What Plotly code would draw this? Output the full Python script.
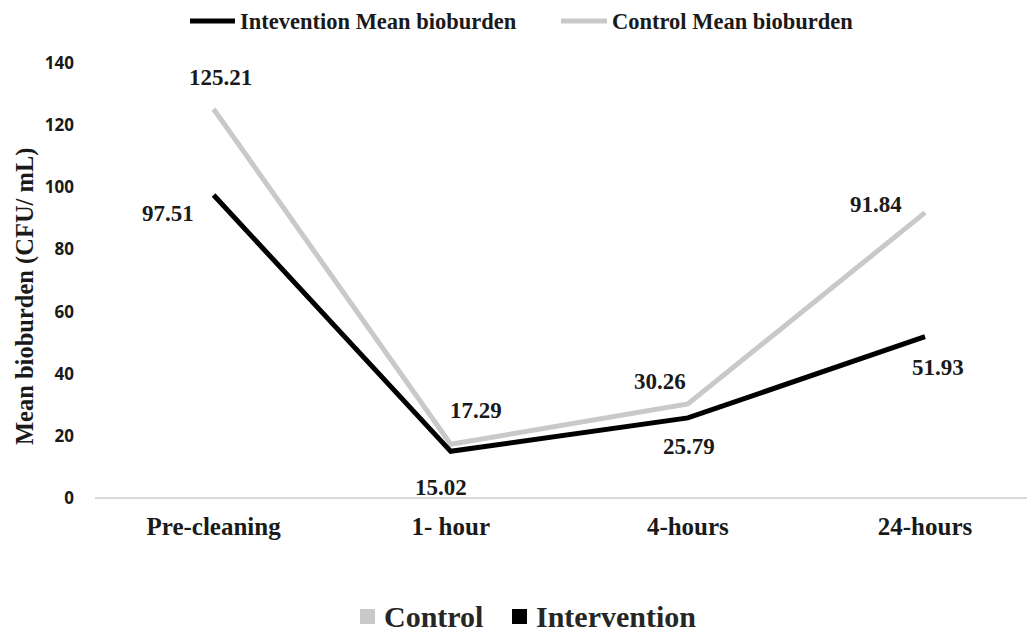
import plotly.graph_objects as go

# Sampling times and mean bioburden (CFU/mL) per group
timepoints = ["Pre-cleaning", "1- hour", "4-hours", "24-hours"]
intervention_mean = [97.51, 15.02, 25.79, 51.93]
control_mean = [125.21, 17.29, 30.26, 91.84]
y_ticks = [0, 20, 40, 60, 80, 100, 120, 140]

SERIF = "Liberation Serif, Times New Roman, serif"
SANS = "Open Sans, Arial, sans-serif"
GRAY = "#c9c9c9"
BLACK = "#000000"
TEXT = "#1a1a1a"

W, H = 1027, 632
L, T, B, R = 95, 63, 134, 0
PW, PH = W - L - R, H - T - B


def px_x(px):
    return (px - L) / PW


def px_y(py):
    return (H - B - py) / PH


fig = go.Figure()

fig.add_trace(go.Scatter(
    x=timepoints, y=control_mean, mode="lines", name="Control Mean bioburden",
    line=dict(color=GRAY, width=5), cliponaxis=False, showlegend=False,
))
fig.add_trace(go.Scatter(
    x=timepoints, y=intervention_mean, mode="lines", name="Intevention Mean bioburden",
    line=dict(color=BLACK, width=5), cliponaxis=False, showlegend=False,
))

# Value labels next to each point (pixel offsets from the point)
control_offsets = [(7, 31), (25, 34), (-28, 22), (-49, 8)]
intervention_offsets = [(-46, -18), (-10, -36), (1, -29), (13, -31)]
for values, offsets in ((control_mean, control_offsets), (intervention_mean, intervention_offsets)):
    for cat, v, (dx, dy) in zip(timepoints, values, offsets):
        fig.add_annotation(
            x=cat, y=v, text=f"{v:.2f}", showarrow=False,
            xshift=dx, yshift=dy, xanchor="center", yanchor="middle",
            font=dict(family=SERIF, size=23, color=TEXT, weight="bold"),
        )

# Line legend across the top
top_items = [("Intevention Mean bioburden", BLACK, 190, 235),
             ("Control Mean bioburden", GRAY, 561, 607)]
for label, color, x0, x1 in top_items:
    fig.add_shape(type="line", xref="paper", yref="paper",
                  x0=px_x(x0), x1=px_x(x1), y0=px_y(21), y1=px_y(21),
                  line=dict(color=color, width=5))
    fig.add_annotation(xref="paper", yref="paper", x=px_x(x1 + 3), y=px_y(21),
                       text=label, showarrow=False, xanchor="left", yanchor="middle",
                       font=dict(family=SERIF, size=22.5, color=TEXT, weight="bold"))

# Square-marker legend along the bottom
bottom_items = [("Control", GRAY, 360), ("Intervention", BLACK, 512)]
for label, color, x0 in bottom_items:
    fig.add_shape(type="rect", xref="paper", yref="paper",
                  x0=px_x(x0), x1=px_x(x0 + 15), y0=px_y(624), y1=px_y(609),
                  line=dict(width=0), fillcolor=color)
    fig.add_annotation(xref="paper", yref="paper", x=px_x(x0 + 22), y=px_y(616),
                       text=label, showarrow=False, xanchor="left", yanchor="middle",
                       font=dict(family=SERIF, size=30, color="#262626", weight="bold"))

# Y-axis title
fig.add_annotation(xref="paper", yref="paper", x=px_x(25), y=px_y(297),
                   text="Mean bioburden (CFU/ mL)", showarrow=False, textangle=-90,
                   xanchor="center", yanchor="middle",
                   font=dict(family=SERIF, size=24.5, color=TEXT, weight="bold"))

fig.update_layout(
    width=W, height=H,
    margin=dict(l=L, r=R, t=T, b=B, pad=0),
    paper_bgcolor="white", plot_bgcolor="white",
    showlegend=False,
    xaxis=dict(
        type="category", range=[-0.5, 3.43],
        showgrid=False, showline=False, zeroline=False, ticks="",
        tickfont=dict(family=SERIF, size=25, color=TEXT, weight="bold"),
        ticklabelstandoff=11,
    ),
    yaxis=dict(
        range=[0, 140], tickvals=y_ticks,
        showgrid=False, showline=False, ticks="",
        zeroline=True, zerolinecolor="#d9d9d9", zerolinewidth=2,
        tickfont=dict(family=SANS, size=17, color=TEXT, weight="bold"),
        ticklabelstandoff=20,
    ),
)

fig.write_html("out.html")
